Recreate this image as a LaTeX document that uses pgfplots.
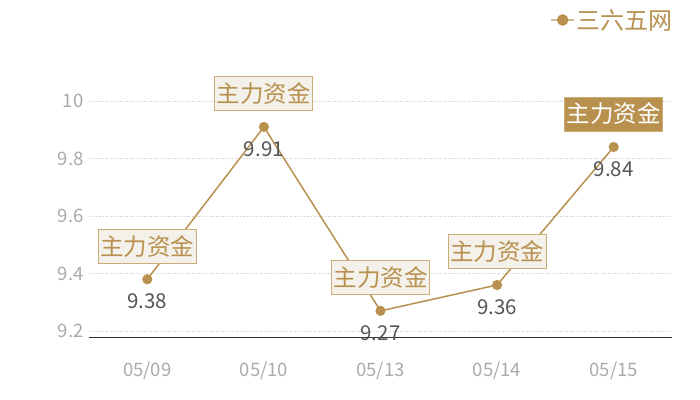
\documentclass[border=0pt]{standalone}
\usepackage{fontspec}
\setmainfont{Noto Sans CJK SC}
\usepackage{pgfplots}
\pgfplotsset{compat=1.18}
\definecolor{gold}{HTML}{B8914F}
\definecolor{legline}{HTML}{D2BC96}
\definecolor{boxfill}{HTML}{F4F0EA}
\definecolor{boxdraw}{HTML}{CCAC78}
\definecolor{tickgray}{HTML}{AAAAAA}
\definecolor{valgray}{HTML}{555555}
\definecolor{gridgray}{HTML}{CCCCCC}
\begin{document}
\begin{tikzpicture}
\path[use as bounding box] (0,0) rectangle (700bp,400bp);
\begin{axis}[
  at={(89bp,63bp)}, anchor=south west,
  scale only axis, width=583bp, height=236bp,
  xmin=-0.5, xmax=4.5, ymin=9.1791, ymax=10,
  clip=false,
  axis x line=bottom, axis y line=left,
  x axis line style={draw=black!80, line width=0.8pt, -},
  y axis line style={draw=none},
  xtick={0,1,2,3,4},
  xticklabels={05/09,05/10,05/13,05/14,05/15},
  ytick={9.2,9.4,9.6,9.8,10},
  yticklabels={9.2,9.4,9.6,9.8,10},
  extra y ticks={10.007}, extra y tick labels={},
  extra y tick style={grid=major, major tick length=0pt},
  ymajorgrids, grid style={gridgray, dotted, line width=0.6pt},
  major tick length=0pt,
  tick label style={font=\fontsize{18.5bp}{21bp}\selectfont, text=tickgray},
  xticklabel style={yshift=-21bp},
  yticklabel style={xshift=-2bp},
  /pgf/number format/assume math mode=true,
  legend style={at={(rel axis cs:1.005,1)}, anchor=east, yshift=81bp, draw=none, fill=none,
    font=\fontsize{24bp}{26bp}\selectfont, text=gold, inner sep=0pt},
  legend cell align=left,
  legend image code/.code={
    \draw[legline, line width=1.5pt] (-0.1cm,0cm) -- (0.7cm,0cm);
    \fill[gold] (0.3cm,0cm) circle (5bp);
  },
]
% main line with values below
\addplot[color=gold, line width=1.5pt, mark=*, mark size=4.3bp, mark options={fill=gold, draw=gold},
  nodes near coords, point meta=explicit symbolic,
  every node near coord/.style={anchor=center, yshift=-22bp, text=valgray,
    font=\fontsize{20.5bp}{23bp}\selectfont}]
  coordinates {(0,9.38)[9.38] (1,9.91)[9.91] (2,9.27)[9.27] (3,9.36)[9.36] (4,9.84)[9.84]};
\addlegendentry{三六五网}
% callout boxes
\addplot[draw=none, mark=none, forget plot,
  nodes near coords={主力资金},
  every node near coord/.style={anchor=center, yshift=33bp, fill=boxfill, draw=boxdraw,
    line width=1pt, text=gold, minimum width=98bp, minimum height=34bp, inner sep=1bp,
    font=\fontsize{23.5bp}{25bp}\selectfont}]
  coordinates {(0,9.38) (1,9.91) (2,9.27) (3,9.36)};
\addplot[draw=none, mark=none, forget plot,
  nodes near coords={主力资金},
  every node near coord/.style={anchor=center, yshift=33bp, fill=gold, draw=boxdraw,
    line width=1pt, text=white, minimum width=98bp, minimum height=34bp, inner sep=1bp,
    font=\fontsize{23.5bp}{25bp}\selectfont}]
  coordinates {(4,9.84)};
\end{axis}
\end{tikzpicture}
\end{document}
